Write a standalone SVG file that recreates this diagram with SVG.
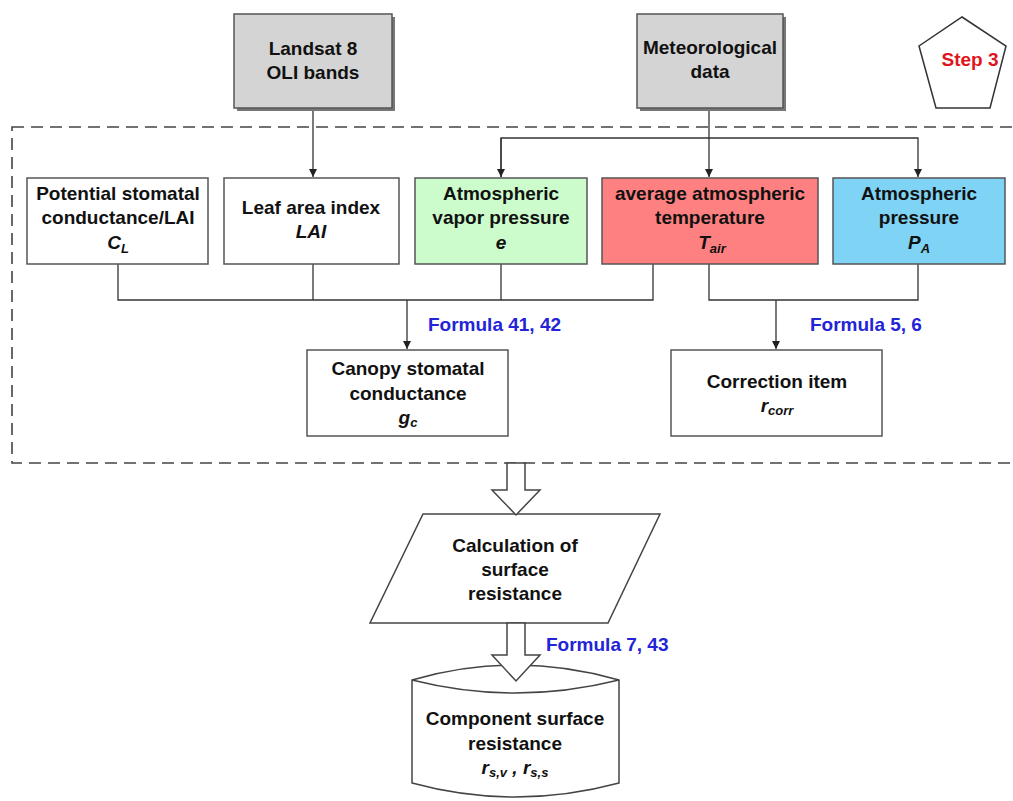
<svg xmlns="http://www.w3.org/2000/svg" width="1013" height="801" viewBox="0 0 1013 801">
<defs>
<marker id="ah" markerWidth="10" markerHeight="10" refX="8" refY="4" orient="auto" markerUnits="userSpaceOnUse">
<path d="M0,0 L8,4 L0,8 Z" fill="#222"/>
</marker>
<style>
.t{font-family:"Liberation Sans",Arial,sans-serif;font-weight:bold;font-size:19px;fill:#111;text-anchor:middle}
.i{font-style:italic}
.sub{font-size:13px}
.f{font-family:"Liberation Sans",Arial,sans-serif;font-weight:bold;font-size:19px;fill:#2323d8}
.box{fill:#fff;stroke:#555;stroke-width:1.5}
.gray{fill:#d4d4d4;stroke:#555;stroke-width:1.5}
.shadow{fill:#777}
.ln{fill:none;stroke:#333;stroke-width:1.3}
.blk{fill:#fff;stroke:#444;stroke-width:1.5}
</style>
</defs>
<rect width="1013" height="801" fill="#fff"/>

<g id="frame">
<rect x="12" y="127" width="1015" height="336" fill="none" stroke="#444" stroke-width="1.6" stroke-dasharray="12,7"/>
</g>

<g id="connectors">
<line class="ln" x1="313" y1="108" x2="313" y2="177" marker-end="url(#ah)"/>
<line class="ln" x1="709" y1="108" x2="709" y2="177" marker-end="url(#ah)"/>
<polyline class="ln" points="501,177 501,138 918,138 918,177" marker-end="url(#ah)"/>
<polyline class="ln" points="501,138 501,177" marker-end="url(#ah)"/>
<polyline class="ln" points="118,264 118,300 653,300 653,264"/>
<line class="ln" x1="313" y1="264" x2="313" y2="300"/>
<line class="ln" x1="501" y1="264" x2="501" y2="300"/>
<line class="ln" x1="407" y1="300" x2="407" y2="349" marker-end="url(#ah)"/>
<polyline class="ln" points="709,264 709,300 918,300 918,264"/>
<line class="ln" x1="776" y1="300" x2="776" y2="349" marker-end="url(#ah)"/>
</g>

<g id="landsat">
<rect class="shadow" x="237" y="17" width="158" height="94"/>
<rect class="gray" x="234" y="14" width="158" height="94"/>
<text class="t" x="313" y="55">Landsat 8</text>
<text class="t" x="313" y="79">OLI bands</text>
</g>

<g id="meteo">
<rect class="shadow" x="640" y="17" width="146" height="94"/>
<rect class="gray" x="637" y="14" width="146" height="94"/>
<text class="t" x="710" y="54">Meteorological</text>
<text class="t" x="710" y="78">data</text>
</g>

<g id="step3">
<polygon points="962,17 1006,46 990,108 936,108 919,46" fill="#fff" stroke="#333" stroke-width="1.5"/>
<text class="t" x="970" y="66" style="fill:#e0141c">Step 3</text>
</g>

<g id="cl">
<rect class="box" x="27" y="178" width="181" height="86"/>
<text class="t" x="118" y="200">Potential stomatal</text>
<text class="t" x="118" y="224">conductance/LAI</text>
<text class="t i" x="118" y="249">C<tspan class="sub" dy="4">L</tspan></text>
</g>

<g id="lai">
<rect class="box" x="224" y="178" width="175" height="86"/>
<text class="t" x="311" y="214">Leaf area index</text>
<text class="t i" x="311" y="238">LAI</text>
</g>

<g id="vapor">
<rect class="box" x="415" y="178" width="172" height="86" style="fill:#ccfccc"/>
<text class="t" x="501" y="200">Atmospheric</text>
<text class="t" x="501" y="224">vapor pressure</text>
<text class="t i" x="501" y="249">e</text>
</g>

<g id="temp">
<rect class="box" x="602" y="178" width="216" height="86" style="fill:#ff8080"/>
<text class="t" x="710" y="200">average atmospheric</text>
<text class="t" x="710" y="224">temperature</text>
<text class="t i" x="712" y="249">T<tspan class="sub" dy="4">air</tspan></text>
</g>

<g id="pressure">
<rect class="box" x="833" y="178" width="172" height="86" style="fill:#7fd4f6"/>
<text class="t" x="919" y="200">Atmospheric</text>
<text class="t" x="919" y="224">pressure</text>
<text class="t i" x="919" y="249">P<tspan class="sub" dy="4">A</tspan></text>
</g>

<g id="formulas">
<text class="f" x="428" y="331">Formula 41, 42</text>
<text class="f" x="810" y="331">Formula 5, 6</text>
<text class="f" x="546" y="651">Formula 7, 43</text>
</g>

<g id="canopy">
<rect class="box" x="307" y="350" width="201" height="86"/>
<text class="t" x="408" y="375">Canopy stomatal</text>
<text class="t" x="408" y="400">conductance</text>
<text class="t i" x="408" y="424">g<tspan class="sub" dy="3">c</tspan></text>
</g>

<g id="corr">
<rect class="box" x="671" y="350" width="211" height="86"/>
<text class="t" x="777" y="388">Correction item</text>
<text class="t i" x="777" y="412">r<tspan class="sub" dy="3">corr</tspan></text>
</g>

<g id="calc">
<polygon class="blk" points="423,514 660,514 608,623 370,623"/>
<text class="t" x="515" y="552">Calculation of</text>
<text class="t" x="515" y="576">surface</text>
<text class="t" x="515" y="600">resistance</text>
</g>

<g id="component">
<path class="blk" d="M412,680 Q515,650 619,680 L619,783 Q515,811 412,783 Z"/>
<path class="ln" d="M412,680 Q515,706 619,680" style="stroke:#444;stroke-width:1.5"/>
<text class="t" x="515" y="725">Component surface</text>
<text class="t" x="515" y="750">resistance</text>
<text class="t i" x="515" y="774">r<tspan class="sub" dy="3">s,v</tspan><tspan dy="-3"> , r</tspan><tspan class="sub" dy="3">s,s</tspan></text>
</g>

<g id="block-arrows">
<path class="blk" d="M507,463 L525,463 L525,490 L540,490 L516,515 L492,490 L507,490 Z"/>
<path class="blk" d="M507,623 L525,623 L525,655 L540,655 L516,681 L492,655 L507,655 Z"/>
</g>
</svg>
